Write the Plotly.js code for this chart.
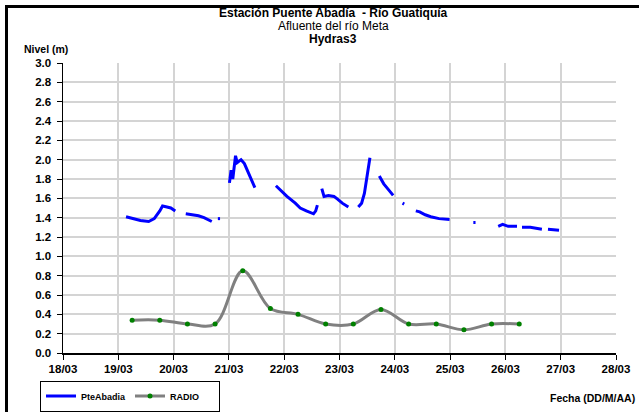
<!DOCTYPE html>
<html>
<head>
<meta charset="utf-8">
<script src="https://cdn.plot.ly/plotly-3.0.1.min.js"></script>
<style>
  html, body { margin: 0; padding: 0; background: #fff; }
  #wrap { position: relative; width: 639px; height: 412px; overflow: hidden; }
  #chart { width: 639px; height: 412px; }
  #frame { position: absolute; left: 5px; top: 5px; width: 700px; height: 500px;
           border-left: 3px solid #000; border-top: 3px solid #000; pointer-events: none; }
</style>
</head>
<body>
<div id="wrap"><div id="chart"></div><div id="frame"></div></div>
<script>
// Day-of-March values (fractional days) and levels in metres; null = gap
const pteDays = [
  19.14, 19.25, 19.40, 19.55, 19.65, 19.75, 19.80, 19.88, 19.95, 20.03, null,
  20.22, 20.35, 20.45, 20.55, 20.69, null,
  20.80, 20.84, null,
  21.01, 21.04, 21.07, 21.12, 21.15, 21.22, 21.28, 21.36, 21.47, null,
  21.85, 21.90, 22.05, 22.20, 22.29, 22.40, 22.53, 22.57, 22.60, null,
  22.68, 22.72, 22.80, 22.90, 22.97, 23.05, 23.16, null,
  23.34, 23.40, 23.45, 23.50, 23.55, null,
  23.72, 23.80, 23.90, 23.97, null,
  24.14, 24.17, null,
  24.38, 24.45, 24.55, 24.65, 24.80, 24.99, null,
  25.42, 25.46, null,
  25.87, 25.95, 26.05, 26.21, null,
  26.30, 26.45, 26.66, null,
  26.77, 26.97
];
const pteLevel = [
  1.41, 1.39, 1.37, 1.36, 1.39, 1.47, 1.52, 1.51, 1.50, 1.47, null,
  1.44, 1.43, 1.42, 1.40, 1.36, null,
  1.39, 1.39, null,
  1.76, 1.89, 1.80, 2.04, 1.97, 2.00, 1.96, 1.85, 1.71, null,
  1.73, 1.70, 1.62, 1.55, 1.50, 1.47, 1.44, 1.47, 1.53, null,
  1.70, 1.62, 1.63, 1.62, 1.59, 1.55, 1.51, null,
  1.51, 1.55, 1.65, 1.82, 2.02, null,
  1.83, 1.75, 1.68, 1.63, null,
  1.55, 1.54, null,
  1.47, 1.46, 1.43, 1.41, 1.39, 1.38, null,
  1.35, 1.35, null,
  1.31, 1.33, 1.31, 1.31, null,
  1.30, 1.30, 1.28, null,
  1.28, 1.27
];
const radioDays = [19.25, 19.75, 20.25, 20.75, 21.25, 21.75, 22.25, 22.75,
                   23.25, 23.75, 24.25, 24.75, 25.25, 25.75, 26.25];
const radioLevel = [0.34, 0.34, 0.30, 0.30, 0.85, 0.46, 0.40, 0.30,
                    0.30, 0.45, 0.30, 0.30, 0.24, 0.30, 0.30];
const xRange = [18, 28];
const yTickLabelFmt = '.1f';
const titleLines = ['<b>Estación Puente Abadía  - Río Guatiquía</b>',
                    'Afluente del río Meta', '<b>Hydras3</b>'];

// convert day-of-March to a date string (unit conversion only)
function toDate(d) {
  if (d === null) return null;
  const ms = Date.UTC(2013, 2, 1) + (d - 1) * 86400000;
  return new Date(ms).toISOString().slice(0, 19).replace('T', ' ');
}

const font = 'Liberation Sans, Arial, sans-serif';
const plotTop = 63, plotBottom = 353, plotLeft = 63, plotRight = 616;
const py = px => (plotBottom - px) / (plotBottom - plotTop);
const pxx = px => (px - plotLeft) / (plotRight - plotLeft);

const traces = [
  {
    x: pteDays.map(toDate), y: pteLevel, name: 'PteAbadia',
    type: 'scatter', mode: 'lines', connectgaps: false,
    line: { color: '#0000ff', width: 3 }
  },
  {
    x: radioDays.map(toDate), y: radioLevel, name: 'RADIO',
    type: 'scatter', mode: 'lines+markers',
    line: { color: '#808080', width: 3, shape: 'spline', smoothing: 1 },
    marker: { color: '#008000', size: 5 }
  }
];

const titleY = [13, 26, 39];
const annotations = titleLines.map((t, i) => ({
  text: t, xref: 'paper', yref: 'paper', x: pxx(333), xanchor: 'center',
  y: py(titleY[i]), yanchor: 'middle', showarrow: false,
  font: { family: font, size: 12, color: '#000' }
}));
annotations.push(
  { text: '<b>Nivel (m)</b>', xref: 'paper', yref: 'paper',
    x: pxx(22), xanchor: 'left', y: py(49), yanchor: 'middle',
    showarrow: false, font: { family: font, size: 10.5, color: '#000' } },
  { text: '<b>Fecha (DD/M/AA)</b>', xref: 'paper', yref: 'paper',
    x: pxx(637), xanchor: 'right', y: py(398), yanchor: 'middle',
    showarrow: false, font: { family: font, size: 10.5, color: '#000' } }
);

const layout = {
  width: 639, height: 412,
  margin: { l: plotLeft, r: 639 - plotRight, t: plotTop, b: 412 - plotBottom, pad: 0, autoexpand: false },
  paper_bgcolor: '#fff', plot_bgcolor: '#fff',
  font: { family: font, color: '#000' },
  showlegend: true,
  xaxis: {
    type: 'date',
    range: xRange.map(toDate),
    dtick: 86400000, tick0: toDate(18),
    tickformat: '%d/%m',
    showgrid: true, gridcolor: '#d4d4d4', gridwidth: 2,
    showline: true, linecolor: '#000', linewidth: 1.5,
    ticks: 'outside', ticklen: 5, tickcolor: '#000', tickwidth: 1,
    tickfont: { family: font, size: 11.5, weight: 'bold', color: '#000' },
    zeroline: false, fixedrange: true, automargin: false
  },
  yaxis: {
    range: [0, 3], dtick: 0.2, tick0: 0, tickformat: yTickLabelFmt,
    showgrid: true, gridcolor: '#d4d4d4', gridwidth: 2,
    showline: true, linecolor: '#000', linewidth: 1.5,
    ticks: 'outside', ticklen: 5, tickcolor: '#000', tickwidth: 1,
    ticklabelstandoff: 3,
    tickfont: { family: font, size: 11.5, weight: 'bold', color: '#000' },
    zeroline: false, fixedrange: true, automargin: false
  },
  legend: {
    orientation: 'h', x: pxx(40), xanchor: 'left', y: py(396), yanchor: 'middle',
    bordercolor: '#000', borderwidth: 1, bgcolor: '#fff',
    font: { family: font, size: 9, weight: 'bold', color: '#000' },
    itemwidth: 30, tracegroupgap: 0, entrywidth: 44
  },
  annotations: annotations
};

Plotly.newPlot('chart', traces, layout, { displayModeBar: false, staticPlot: true });
</script>
</body>
</html>
